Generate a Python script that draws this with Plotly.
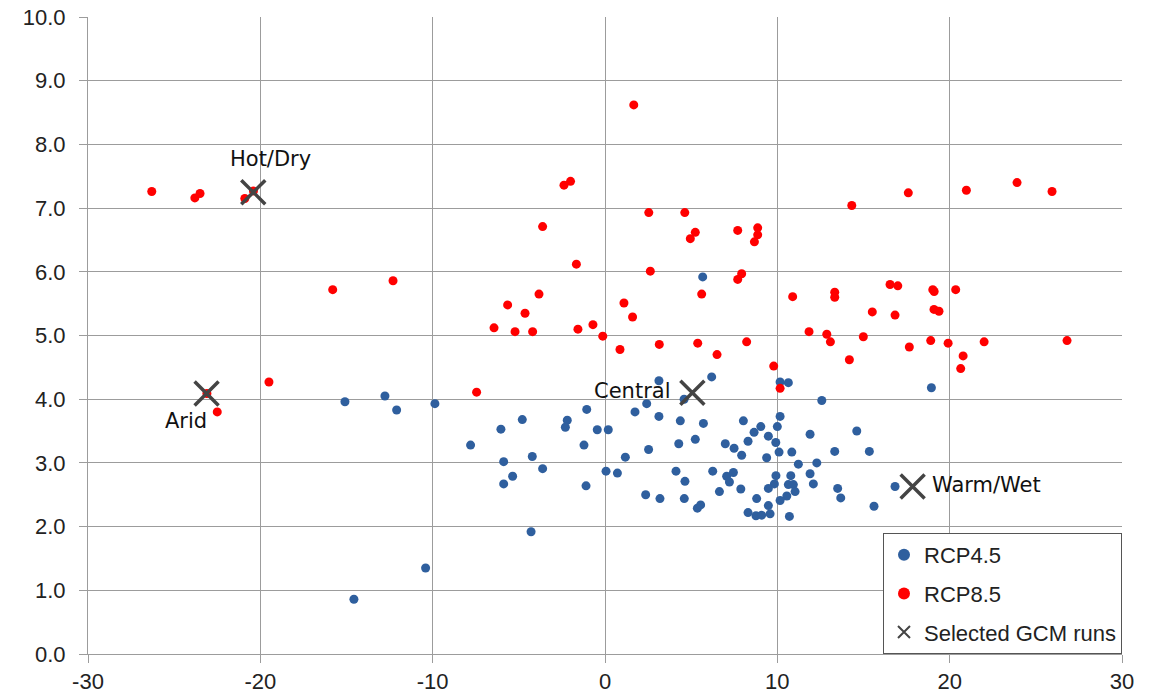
import plotly.graph_objects as go

# RCP4.5 GCM runs: precipitation change (%) vs temperature change
rcp45_x = [-15.09, -12.77, -12.09, -9.87, -7.80, -6.04, -4.80, -2.19, -2.30, -1.06,
           -1.22, -5.88, -4.22, -3.62, -5.36, -5.88, -1.10, -4.29, -10.41, -14.57,
           -0.45, 0.19, 0.06, 0.72, 1.18, 1.74, 2.42, 3.13, 3.13, 2.53,
           2.36, 3.19, 4.12, 4.64, 4.60, 5.36, 5.55, 4.37, 4.28, 5.24,
           5.71, 4.59, 6.19, 6.25, 6.64, 6.98, 7.49, 7.93, 7.06, 7.45,
           7.22, 7.88, 8.03, 8.30, 8.30, 10.16, 10.64, 12.58, 18.94, 10.16,
           9.04, 8.65, 10.00, 9.48, 9.91, 11.90, 14.61, 9.38, 10.10, 10.84,
           11.22, 12.29, 13.33, 15.34, 9.92, 10.78, 11.90, 12.09, 9.83, 10.64,
           10.93, 11.03, 9.48, 8.80, 10.55, 10.16, 9.48, 8.76, 9.09, 9.58,
           10.70, 13.50, 13.68, 15.61, 16.83, 5.67]
rcp45_y = [3.96, 4.05, 3.83, 3.93, 3.28, 3.53, 3.68, 3.67, 3.56, 3.84,
           3.28, 3.02, 3.10, 2.91, 2.79, 2.67, 2.64, 1.92, 1.35, 0.86,
           3.52, 3.52, 2.87, 2.84, 3.09, 3.80, 3.93, 4.29, 3.73, 3.21,
           2.50, 2.44, 2.87, 2.71, 2.44, 2.29, 2.34, 3.66, 3.30, 3.37,
           3.62, 4.00, 4.35, 2.87, 2.55, 3.30, 3.23, 3.12, 2.79, 2.85,
           2.70, 2.59, 3.66, 3.34, 2.22, 4.27, 4.26, 3.98, 4.18, 3.73,
           3.57, 3.48, 3.57, 3.42, 3.32, 3.45, 3.50, 3.08, 3.17, 3.17,
           2.98, 3.00, 3.18, 3.18, 2.80, 2.80, 2.83, 2.67, 2.67, 2.66,
           2.66, 2.55, 2.60, 2.44, 2.48, 2.41, 2.33, 2.17, 2.18, 2.20,
           2.16, 2.60, 2.45, 2.32, 2.63, 5.92]

# RCP8.5 GCM runs
rcp85_x = [-26.3, -23.8, -23.5, -20.9, -20.4, -15.8, -12.3, -23.1, -22.5, -19.5,
           1.67, -2.38, -2.0, 2.54, 4.63, -3.62, 5.24, 4.95, 7.70, 8.86,
           8.86, 8.67, -1.66, 2.63, 7.93, 7.70, 5.61, -3.83, -5.65, -4.64,
           -6.44, -5.22, -4.20, -1.57, -0.70, 1.10, 1.60, -0.13, 0.87, 3.15,
           5.38, 6.50, 8.22, 9.79, 14.32, 17.60, 20.97, 23.91, 25.94, 10.89,
           13.33, 13.33, 16.54, 16.99, 19.02, 19.10, 20.35, 15.51, 16.83, 19.09,
           19.38, 11.84, 12.87, 13.08, 14.99, 17.66, 18.90, 19.91, 22.0, 26.81,
           20.78, 20.64, 14.18, 10.16, -7.45]
rcp85_y = [7.26, 7.16, 7.23, 7.15, 7.27, 5.72, 5.86, 4.09, 3.80, 4.27,
           8.62, 7.36, 7.42, 6.93, 6.93, 6.71, 6.62, 6.52, 6.65, 6.69,
           6.58, 6.47, 6.12, 6.01, 5.97, 5.88, 5.65, 5.65, 5.48, 5.35,
           5.12, 5.06, 5.06, 5.10, 5.17, 5.51, 5.29, 4.99, 4.78, 4.86,
           4.88, 4.70, 4.90, 4.52, 7.04, 7.24, 7.28, 7.40, 7.26, 5.61,
           5.68, 5.60, 5.80, 5.78, 5.72, 5.69, 5.72, 5.37, 5.32, 5.41,
           5.38, 5.06, 5.02, 4.90, 4.98, 4.82, 4.92, 4.88, 4.90, 4.92,
           4.68, 4.48, 4.62, 4.17, 4.11]

# Selected GCM runs
sel_names = ["Hot/Dry", "Arid", "Central", "Warm/Wet"]
sel_x = [-20.41, -23.12, 5.07, 17.85]
sel_y = [7.25, 4.09, 4.10, 2.63]

x_ticks = [-30, -20, -10, 0, 10, 20, 30]
y_ticks = [0, 1, 2, 3, 4, 5, 6, 7, 8, 9, 10]

FONT = "Liberation Sans, Arial, sans-serif"
GRID = "#9c9c9c"

fig = go.Figure()
fig.add_trace(go.Scatter(x=rcp45_x, y=rcp45_y, mode="markers", name="RCP4.5",
                         legendgroup="a",
                         marker=dict(color="#2f5f9e", size=9, line=dict(width=0))))
fig.add_trace(go.Scatter(x=rcp85_x, y=rcp85_y, mode="markers", name="RCP8.5",
                         legendgroup="b",
                         marker=dict(color="#ff0000", size=9, line=dict(width=0))))
fig.add_trace(go.Scatter(x=sel_x, y=sel_y, mode="markers", name="Selected GCM runs",
                         legendgroup="c",
                         marker=dict(symbol="x-thin", size=24, color="#444444",
                                     line=dict(width=3.5, color="#444444"))))

# labels for the selected runs: (xshift, yshift, xanchor)
offsets = {"Hot/Dry": (17, 33, "center"), "Arid": (2, -28, "right"),
           "Central": (-20, 2, "right"), "Warm/Wet": (17, 1, "left")}
for n, xv, yv in zip(sel_names, sel_x, sel_y):
    dx, dy, al = offsets[n]
    fig.add_annotation(x=xv, y=yv, text=n, showarrow=False, xshift=dx, yshift=dy,
                       xanchor=al,
                       font=dict(size=21, color="#111111", family="DejaVu Sans, sans-serif"))

fig.update_layout(
    width=1150, height=696,
    margin=dict(l=88, r=28, t=17, b=42, autoexpand=False),
    paper_bgcolor="white", plot_bgcolor="white",
    font=dict(family=FONT, size=22, color="#222222"),
    showlegend=True,
    legend=dict(x=1, y=0, xanchor="right", yanchor="bottom",
                bgcolor="white", bordercolor="#555555", borderwidth=1,
                font=dict(size=22, color="#222222"), tracegroupgap=7,
                itemsizing="constant", itemwidth=30),
)
fig.update_xaxes(range=[-30, 30], tickvals=x_ticks, ticktext=[str(v) for v in x_ticks],
                 showgrid=True, gridcolor=GRID, gridwidth=1, automargin=False,
                 zeroline=False, showline=True, linecolor=GRID, linewidth=1,
                 ticks="outside", ticklen=8, tickcolor=GRID,
                 tickfont=dict(size=22, color="#222222"))
fig.update_yaxes(range=[0, 10], tickvals=y_ticks, ticktext=[f"{v:.1f}" for v in y_ticks],
                 showgrid=True, gridcolor=GRID, gridwidth=1, automargin=False,
                 zeroline=False, showline=True, linecolor=GRID, linewidth=1,
                 ticks="outside", ticklen=8, tickcolor=GRID, ticklabelstandoff=9,
                 tickfont=dict(size=22, color="#222222"))

# remove the page's default 8px body margin so the figure fills the window exactly
fig.write_html("out.html",
               config={"displayModeBar": False},
               post_script="document.body.style.margin='0';document.body.style.overflow='hidden';")
